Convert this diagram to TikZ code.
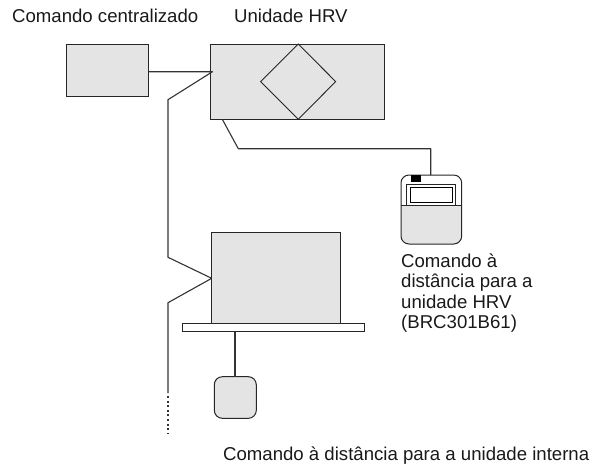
\documentclass[tikz,border=0pt]{standalone}
\usepackage{fontspec}
\setmainfont{Liberation Sans}
\definecolor{boxgray}{gray}{0.895}
\tikzset{
  px/.style={x=1pt,y=-1pt},
  unitbox/.style={draw=black!85,fill=boxgray,line width=1pt,minimum width=0pt,inner sep=0pt},
  wire/.style={draw=black!80,line width=1.1pt,line join=round},
  lbl/.style={font=\fontsize{18.6}{20}\selectfont,inner sep=0pt,align=left,text=black!90}
}
\begin{document}
\begin{tikzpicture}[px]
\useasboundingbox (0,0) rectangle (603,467);
% central controller
\draw[unitbox] (66,44) rectangle (148.5,96.7);
\coordinate (cc) at (148.5,71.7);
% HRV unit
\draw[unitbox] (210.5,44) rectangle (384.3,119.3);
\draw[line width=0.9pt,draw=black!85] (298.2,44) -- (335.7,81.6) -- (298.2,119.3) -- (260.7,81.6) -- cycle;
\coordinate (hrvin) at (212.5,71.7);
\coordinate (hrvout) at (222.3,119.3);
\coordinate (w1) at (168,99.7);
\coordinate (w2) at (168,257.3);
\coordinate (iu) at (211.7,278.3);
\coordinate (w3) at (168,302.7);
\coordinate (w4) at (168,393);
\coordinate (w5) at (168,433);
\draw[wire] (cc) -- (hrvin) -- (w1) -- (w2) -- (iu) -- (w3) -- (w4);
\draw[wire,dash pattern=on 2pt off 2.6pt] (w4) ++(0,3) -- (w5);
% HRV remote
\coordinate (b1) at (238.3,148.7);
\coordinate (b2) at (430.7,148.7);
\coordinate (rc) at (430.7,175);
\draw[wire] (hrvout) -- (b1) -- (b2) -- (rc);
\fill[boxgray] (401,205) -- (461.7,205) -- (461.7,236) arc[start angle=0,end angle=90,x radius=8pt,y radius=-8pt] -- (409,244) arc[start angle=90,end angle=180,x radius=8pt,y radius=-8pt] -- cycle;
\draw[draw=black!85,line width=1pt,rounded corners=8pt] (401,175) rectangle (461.7,244);
\draw[draw=black!85,line width=1pt] (401,205) -- (461.7,205);
\draw[draw=black!85,line width=0.9pt] (406.7,205) -- (406.7,184) -- (455.3,184) -- (455.3,205);
\draw[draw=black,line width=0.9pt] (410.3,187.3) rectangle (452,202.3);
\fill[black] (410.7,175) rectangle (421,181.7);
% indoor unit
\draw[unitbox] (211.7,232.3) rectangle (340.3,323.3);
\draw[draw=black!85,line width=1pt,fill=white] (182.3,323.5) rectangle (364,331.7);
\coordinate (pl) at (235,331.7);
\draw[unitbox,rounded corners=8pt] (214.3,376.7) rectangle (256.3,418.3);
\coordinate (ir) at (235,376.7);
\draw[wire] (pl) -- (ir);
% labels
\node[lbl,anchor=base west] (t1) at (12,22.5) {Comando centralizado};
\node[lbl,anchor=base west] (t2) at (234,22.5) {Unidade HRV};
\node[lbl,anchor=base west] (t3) at (401,267) {Comando à};
\node[lbl,anchor=base west] (t4) at (401,287.5) {distância para a};
\node[lbl,anchor=base west] (t5) at (401,308) {unidade HRV};
\node[lbl,anchor=base west] (t6) at (401,328.5) {(BRC301B61)};
\node[lbl,anchor=base west] (t7) at (223,460.5) {Comando à distância para a unidade interna};
\end{tikzpicture}
\end{document}
